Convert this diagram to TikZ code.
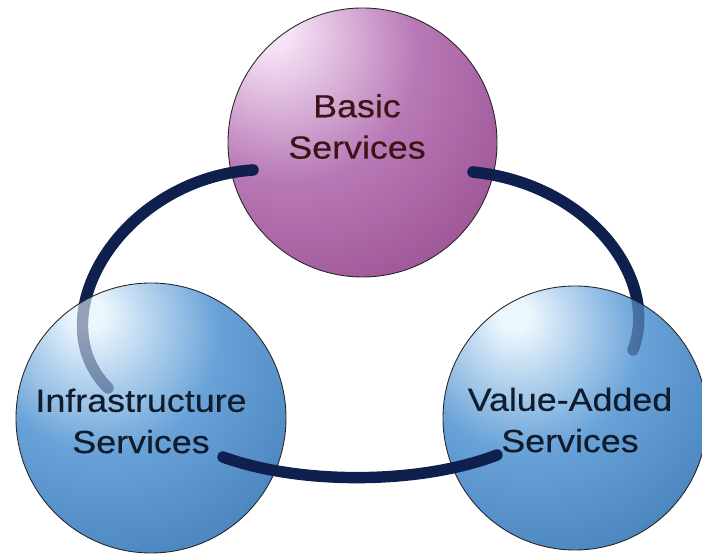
\documentclass[tikz,border=0pt]{standalone}
\usepackage{fontspec}
\newfontfamily\spherefont{Liberation Sans}[FakeStretch=1.12, FakeBold=0.4]
\usetikzlibrary{calc}

\definecolor{pinkHi}{RGB}{244,226,245}
\definecolor{pinkMid}{RGB}{184,120,182}
\definecolor{pinkEdge}{RGB}{132,50,118}
\definecolor{blueHi}{RGB}{236,246,253}
\definecolor{blueMid}{RGB}{104,162,216}
\definecolor{blueEdge}{RGB}{40,98,160}
\definecolor{linknavy}{RGB}{16,32,78}
\definecolor{textmaroon}{RGB}{60,20,22}
\definecolor{textnavy}{RGB}{16,28,44}

\pgfdeclareradialshading{basicshade}{\pgfpoint{-18bp}{22bp}}{color(0bp)=(pinkHi); color(4bp)=(pinkHi); color(24bp)=(pinkMid); color(62bp)=(pinkEdge); color(100bp)=(pinkEdge)}
\pgfdeclareradialshading{blueshade}{\pgfpoint{-12bp}{20bp}}{color(0bp)=(blueHi); color(3bp)=(blueHi); color(22bp)=(blueMid); color(62bp)=(blueEdge); color(100bp)=(blueEdge)}

\pgfdeclarelayer{back}
\pgfdeclarelayer{links}
\pgfsetlayers{back,links,main}

\begin{document}
\begin{tikzpicture}[
    sphere/.style={circle, draw=black!85, line width=0.5pt, inner sep=0pt},
    basic/.style={sphere, shade, shading=basicshade, minimum size=5.38cm},
    service/.style={sphere, shade, shading=blueshade, minimum size=5.4cm},
    link/.style={draw=linknavy, line width=6.5pt, line cap=round},
    hidden/.style={link, draw opacity=0.4},
    caption/.style={font=\spherefont\fontsize{18.2}{23.5}\selectfont, align=center}
]
\useasboundingbox (0,0) rectangle (14.04,11.12);

% Basic services on top
\begin{pgfonlayer}{back}
    \node[basic] (basic) at (7.25, 8.27) {};
\end{pgfonlayer}

% Lower spheres
\node[service] (infra) at (3.02, 2.76) {};
\node[service, minimum size=5.28cm] (value) at (11.5, 2.76) {};

% Links from the top sphere, behind the lower spheres
\begin{pgfonlayer}{links}
    \draw[link] ($(basic.center)+(-2.19,-0.55)$) .. controls +(184:2.66) and +(135:1.98) .. ($(infra.center)+(-0.86,0.60)$);
    \draw[link] ($(basic.center)+(2.21,-0.59)$) .. controls +(-6:2.36) and +(69:1.5) .. ($(value.center)+(1.16,1.36)$);
\end{pgfonlayer}

% same links seen through the lower spheres
\draw[hidden] ($(basic.center)+(-2.19,-0.55)$) .. controls +(184:2.66) and +(135:1.98) .. ($(infra.center)+(-0.86,0.60)$);
\draw[hidden] ($(basic.center)+(2.21,-0.59)$) .. controls +(-6:2.36) and +(69:1.5) .. ($(value.center)+(1.16,1.36)$);

% Link between the lower spheres
\draw[link] ($(infra.center)+(1.44,-0.78)$) .. controls +(-20:1.64) and +(201:1.65) .. ($(value.center)+(-1.56,-0.74)$);

% Texts
\node[caption, textmaroon] (basictext) at (7.14, 8.59) {Basic\\Services};
\node[caption, textnavy] (infratext) at (2.82, 2.70) {Infrastructure\\Services};
\node[caption, textnavy] (valuetext) at (11.4, 2.72) {Value-Added\\Services};

\end{tikzpicture}
\end{document}
